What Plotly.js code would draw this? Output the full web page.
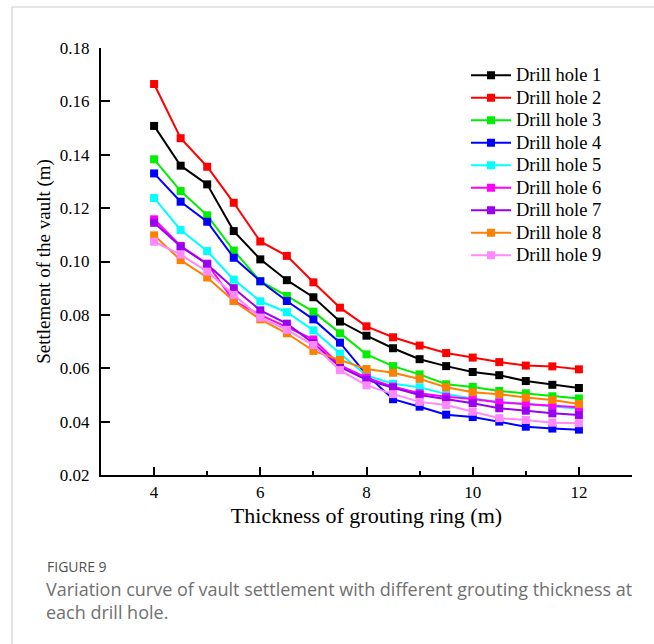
<!DOCTYPE html>
<html>
<head>
<meta charset="utf-8">
<script src="https://cdn.plot.ly/plotly-3.0.1.min.js"></script>
<style>
  html, body { margin: 0; padding: 0; background: #fff; }
  #chart { width: 654px; height: 644px; }
</style>
</head>
<body>
<div id="chart"></div>
<script>
// ---- data ----
const thickness = [4, 4.5, 5, 5.5, 6, 6.5, 7, 7.5, 8, 8.5, 9, 9.5, 10, 10.5, 11, 11.5, 12];
const seriesNames = ["Drill hole 1", "Drill hole 2", "Drill hole 3", "Drill hole 4", "Drill hole 5",
                     "Drill hole 6", "Drill hole 7", "Drill hole 8", "Drill hole 9"];
const hole1 = [0.1508, 0.1359, 0.1289, 0.1114, 0.1008, 0.0930, 0.0866, 0.0775, 0.0722, 0.0675, 0.0634, 0.0608, 0.0586, 0.0574, 0.0552, 0.0538, 0.0526];
const hole2 = [0.1665, 0.1462, 0.1355, 0.1220, 0.1075, 0.1021, 0.0922, 0.0827, 0.0757, 0.0716, 0.0685, 0.0657, 0.0640, 0.0623, 0.0610, 0.0607, 0.0596];
const hole3 = [0.1383, 0.1264, 0.1173, 0.1041, 0.0926, 0.0871, 0.0812, 0.0731, 0.0652, 0.0608, 0.0577, 0.0540, 0.0530, 0.0515, 0.0506, 0.0495, 0.0487];
const hole4 = [0.1330, 0.1224, 0.1149, 0.1014, 0.0926, 0.0852, 0.0783, 0.0696, 0.0576, 0.0484, 0.0456, 0.0426, 0.0417, 0.0400, 0.0381, 0.0374, 0.0370];
const hole5 = [0.1238, 0.1118, 0.1039, 0.0932, 0.0851, 0.0810, 0.0742, 0.0655, 0.0573, 0.0542, 0.0529, 0.0503, 0.0487, 0.0474, 0.0466, 0.0456, 0.0448];
const hole6 = [0.1158, 0.1058, 0.0992, 0.0852, 0.0800, 0.0755, 0.0708, 0.0612, 0.0565, 0.0531, 0.0506, 0.0493, 0.0485, 0.0472, 0.0466, 0.0460, 0.0454];
const hole7 = [0.1145, 0.1056, 0.0990, 0.0900, 0.0817, 0.0767, 0.0694, 0.0605, 0.0557, 0.0527, 0.0500, 0.0484, 0.0469, 0.0450, 0.0441, 0.0431, 0.0425];
const hole8 = [0.1098, 0.1005, 0.0940, 0.0852, 0.0783, 0.0731, 0.0665, 0.0631, 0.0597, 0.0583, 0.0560, 0.0529, 0.0510, 0.0503, 0.0490, 0.0481, 0.0466];
const hole9 = [0.1074, 0.1026, 0.0962, 0.0875, 0.0790, 0.0744, 0.0687, 0.0593, 0.0536, 0.0503, 0.0474, 0.0462, 0.0437, 0.0413, 0.0406, 0.0396, 0.0394];
const seriesValues = [hole1, hole2, hole3, hole4, hole5, hole6, hole7, hole8, hole9];
const seriesColors = ["#000000", "#ff0000", "#00ee00", "#0000ff", "#00ffff", "#ff00ff", "#9900ee", "#ff8000", "#ff88ff"];
const yTickVals = [0.02, 0.04, 0.06, 0.08, 0.10, 0.12, 0.14, 0.16, 0.18];
const xTickVals = [4, 6, 8, 10, 12];
const xTitle = "Thickness of grouting ring (m)";
const yTitle = "Settlement of the vault (m)";
const figLabel = "FIGURE 9";
const captionLines = ["Variation curve of vault settlement with different grouting thickness at", "each drill hole."];

// ---- layout geometry (pixels) ----
const W = 654, H = 644;
const M = { l: 101, r: 22, t: 48, b: 169 };
const pw = W - M.l - M.r, ph = H - M.t - M.b;
const px = x => (x - M.l) / pw;          // pixel -> paper x
const py = y => 1 - (y - M.t) / ph;      // pixel -> paper y

const serif = "Liberation Serif, Times New Roman, serif";
const sans = "Open Sans";

const traces = seriesValues.map((vals, i) => ({
  type: "scatter",
  mode: "lines+markers",
  name: '<span style="font-size:18.5px">' + seriesNames[i] + '</span>',
  x: thickness,
  y: vals,
  line: { color: seriesColors[i], width: 2 },
  marker: { color: seriesColors[i], symbol: "square", size: 8 }
}));

const layout = {
  width: W, height: H,
  margin: { l: M.l, r: M.r, t: M.t, b: M.b, pad: 0 },
  paper_bgcolor: "#ffffff",
  plot_bgcolor: "#ffffff",
  showlegend: true,
  font: { family: serif, size: 17, color: "#000" },
  xaxis: {
    range: [3, 13],
    tickmode: "array",
    tickvals: xTickVals,
    ticks: "inside", ticklen: 8, tickwidth: 2, tickcolor: "#000",
    minor: { dtick: 1, tick0: 3, ticks: "inside", ticklen: 4, tickwidth: 2, tickcolor: "#000" },
    showline: true, linecolor: "#000", linewidth: 2,
    showgrid: false, zeroline: false,
    ticklabelstandoff: 1,
    tickfont: { family: serif, size: 17, color: "#000" },
    title: { text: xTitle, font: { family: serif, size: 22, color: "#000" }, standoff: 6 }
  },
  yaxis: {
    range: [0.02, 0.18],
    tickmode: "array",
    tickvals: yTickVals,
    tickformat: ".2f",
    ticks: "inside", ticklen: 9, tickwidth: 2, tickcolor: "#000",
    showline: true, linecolor: "#000", linewidth: 2,
    showgrid: false, zeroline: false,
    ticklabelstandoff: 6,
    tickfont: { family: serif, size: 17, color: "#000" },
    title: { text: yTitle, font: { family: serif, size: 19, color: "#000" }, standoff: 4 }
  },
  legend: {
    x: px(466), y: py(59), xanchor: "left", yanchor: "top",
    bgcolor: "rgba(0,0,0,0)", borderwidth: 0,
    font: { family: serif, size: 15, color: "#000" },
    tracegroupgap: 0, itemwidth: 40
  },
  shapes: [
    { type: "line", xref: "paper", yref: "paper", x0: px(12), x1: px(660), y0: py(7), y1: py(7), line: { color: "#cccccc", width: 1 } },
    { type: "line", xref: "paper", yref: "paper", x0: px(12), x1: px(12), y0: py(7), y1: py(650), line: { color: "#cccccc", width: 1 } }
  ],
  annotations: [
    { text: figLabel, xref: "paper", yref: "paper", x: px(46), y: py(577), xanchor: "left", yanchor: "bottom", showarrow: false,
      borderpad: 0, font: { family: sans, size: 14, color: "#505050" } },
    { text: captionLines.join("<br>"), align: "left", xref: "paper", yref: "paper", x: px(45), y: py(576), xanchor: "left", yanchor: "top", showarrow: false,
      borderpad: 0, font: { family: sans, size: 18, color: "#707070" } }
  ]
};

Plotly.newPlot("chart", traces, layout, { displayModeBar: false, staticPlot: true });
</script>
</body>
</html>
